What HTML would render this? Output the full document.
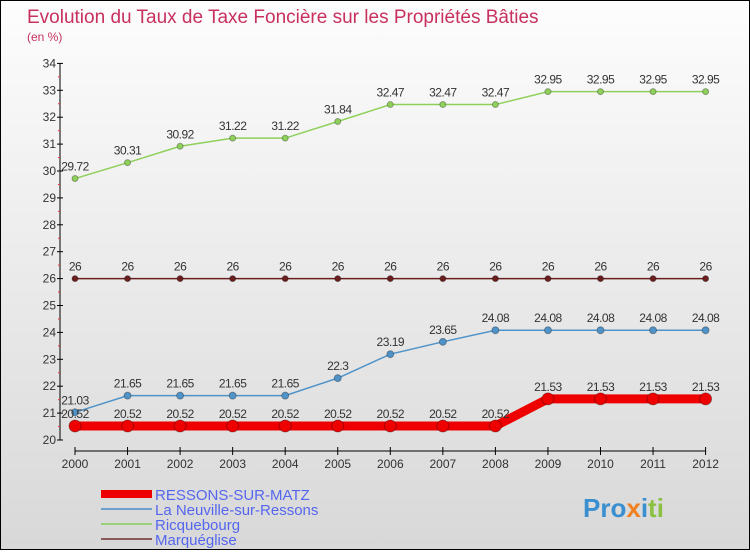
<!DOCTYPE html>
<html><head><meta charset="utf-8"><style>
html,body{margin:0;padding:0}
body{width:750px;height:550px;overflow:hidden;font-family:"Liberation Sans",sans-serif}
#c{position:relative;width:748px;height:548px;border:1px solid #000;background:linear-gradient(#fdfdfd,#d8d8d8)}
</style></head><body>
<div id="c">
<svg id="s" width="748" height="548"></svg>
</div>
<script>
const years=[2000,2001,2002,2003,2004,2005,2006,2007,2008,2009,2010,2011,2012];
const ressons=[20.52,20.52,20.52,20.52,20.52,20.52,20.52,20.52,20.52,21.53,21.53,21.53,21.53];
const neuville=[21.03,21.65,21.65,21.65,21.65,22.3,23.19,23.65,24.08,24.08,24.08,24.08,24.08];
const ricq=[29.72,30.31,30.92,31.22,31.22,31.84,32.47,32.47,32.47,32.95,32.95,32.95,32.95];
const marq=[26,26,26,26,26,26,26,26,26,26,26,26,26];
const yTicks=[20,21,22,23,24,25,26,27,28,29,30,31,32,33,34];
const NS="http://www.w3.org/2000/svg";
const svg=document.getElementById('s');
const X=i=>74+i*52.55;
const Y=v=>439-(v-20)*26.9;
function mk(t,a,p){const e=document.createElementNS(NS,t);for(const k in a)e.setAttribute(k,a[k]);(p||svg).appendChild(e);return e;}
let t=mk('text',{x:26,y:22,fill:'#c8305e','font-size':19});t.textContent='Evolution du Taux de Taxe Foncière sur les Propriétés Bâties';

t=mk('text',{x:26,y:40,fill:'#c8305e','font-size':12});t.textContent='(en %)';

// y axis
let ax=mk('line',{x1:59,y1:Y(34),x2:59,y2:Y(20),stroke:'#000'});

yTicks.forEach(v=>{mk('line',{x1:56,y1:Y(v),x2:62,y2:Y(v),stroke:'#000'});
 if(v<34)mk('line',{x1:57,y1:Y(v+0.5),x2:59,y2:Y(v+0.5),stroke:'#e33'});
 const l=mk('text',{x:55,y:Y(v)+4,'text-anchor':'end','font-size':12,fill:'#333'});l.textContent=v;
 });
ax=mk('line',{x1:X(0),y1:450,x2:X(12),y2:450,stroke:'#000'});

years.forEach((y,i)=>{mk('line',{x1:X(i),y1:446,x2:X(i),y2:454,stroke:'#000'});
 const l=mk('text',{x:X(i),y:467,'text-anchor':'middle','font-size':12,fill:'#333'});l.textContent=y;
 });
function series(d,col,w,r,name,fmt){
 const g=mk('g',{});
 mk('polyline',{points:d.map((v,i)=>X(i)+','+Y(v)).join(' '),fill:'none',stroke:col,'stroke-width':w},g);
 d.forEach((v,i)=>{const c=mk('circle',{cx:X(i),cy:Y(v),r:r,fill:col,stroke:'rgba(0,0,0,0.3)'},g);
  
  const l=mk('text',{x:X(i),y:Y(v)-8,'text-anchor':'middle','font-size':12,fill:'#333','letter-spacing':'-0.5'},g);
  l.textContent=String(v).replace('.','.');
  });
}
series(ricq,'#8ed05a',1.5,3,'series-ricquebourg');
series(marq,'#6b1e1e',1.5,3,'series-marqueglise');
series(neuville,'#4f93c8',1.5,3.5,'series-la-neuville');
series(ressons,'#ee0000',9,6,'series-ressons');
const legend=[['RESSONS-SUR-MATZ','#ee0000',8],['La Neuville-sur-Ressons','#6fa0cc',2],['Ricquebourg','#9ad07a',2],['Marquéglise','#8a5a5a',2]];
legend.forEach((e,i)=>{const g=mk('g',{});
 const y=493+i*15;mk('line',{x1:100,y1:y,x2:151,y2:y,stroke:e[1],'stroke-width':e[2]},g);
 const l=mk('text',{x:154,y:y+6,'font-size':15,fill:'#5566ee'},g);l.textContent=e[0];});
const lg=mk('text',{x:582,y:516,'font-size':26,'font-weight':'bold',fill:'#3a8fd0'});

lg.innerHTML='<tspan fill="#3a8fd0">Pro</tspan><tspan fill="#f08020">x</tspan><tspan fill="#3a8fd0">i</tspan><tspan fill="#8cc040">ti</tspan>';
</script>
</body></html>
